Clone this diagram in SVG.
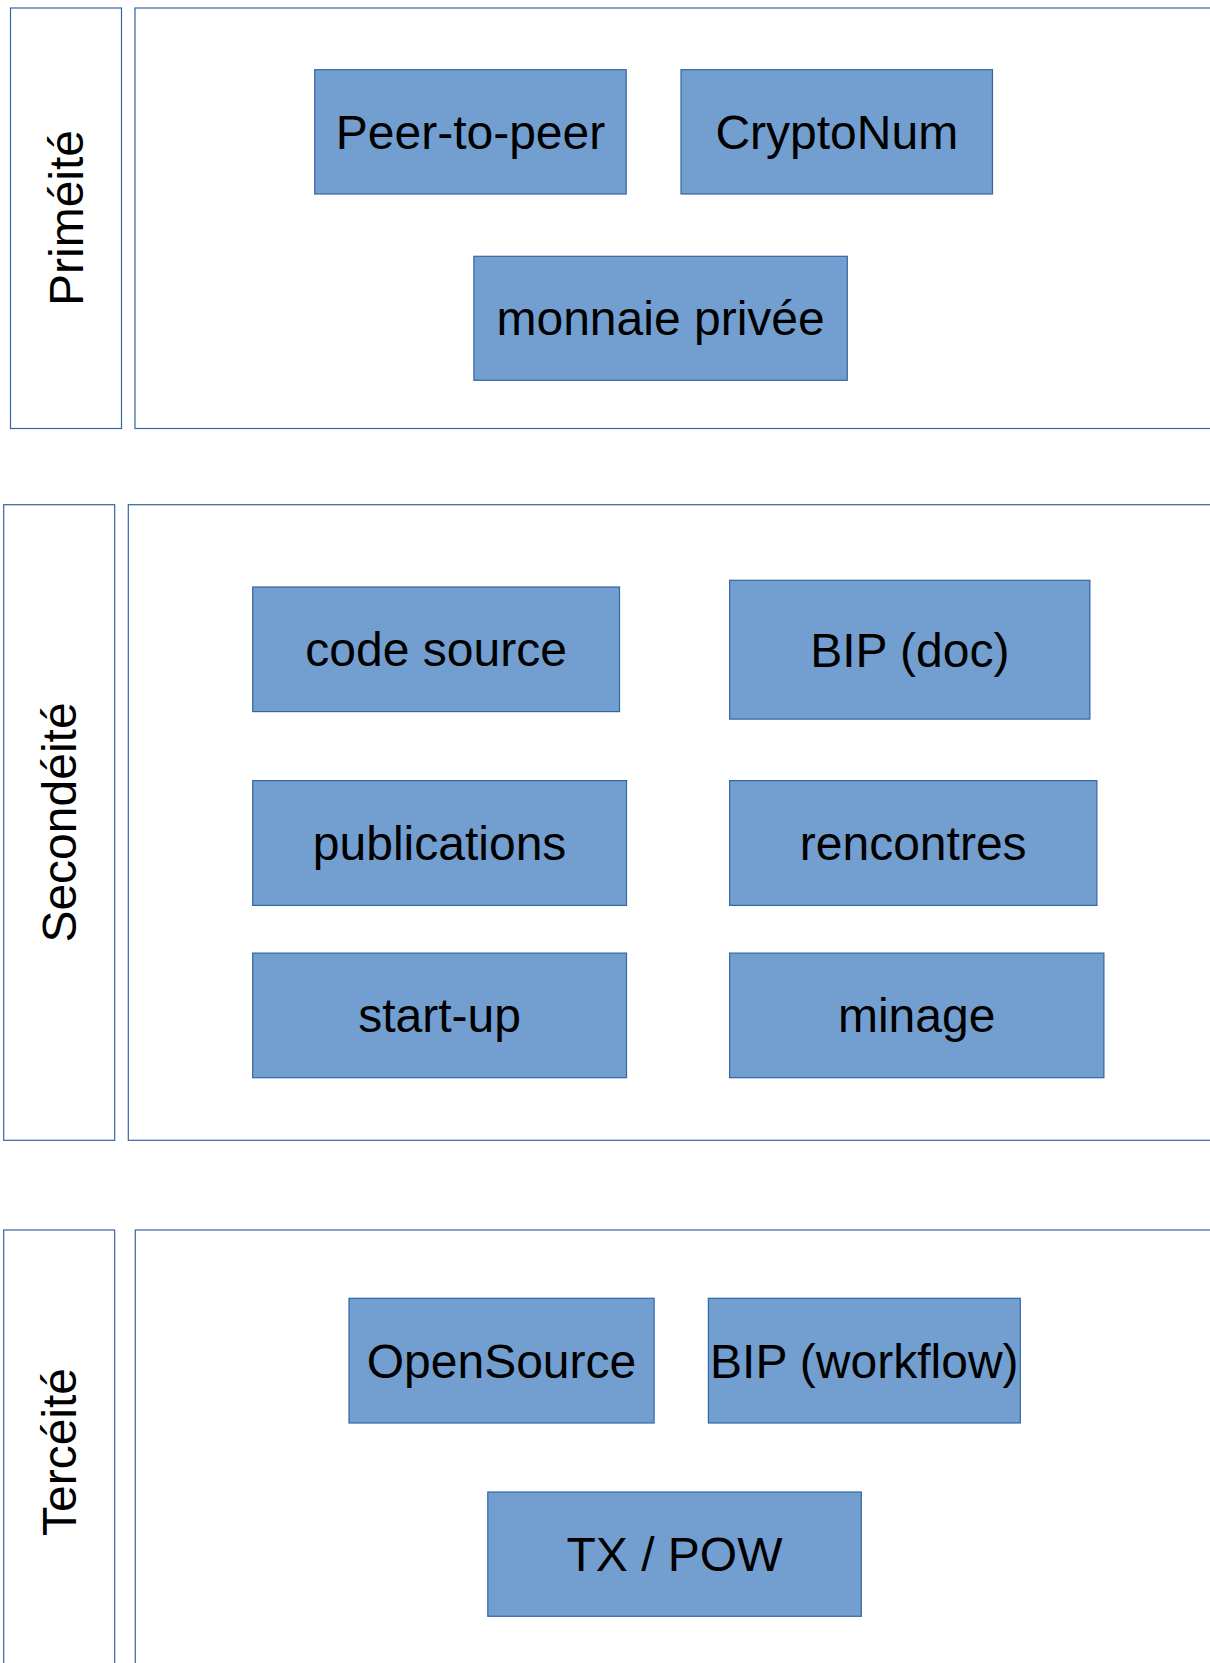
<svg xmlns="http://www.w3.org/2000/svg" width="1210" height="1663" viewBox="0 0 1210 1663">
<style>
.frame{fill:#ffffff;stroke:#3465a4;stroke-width:1.2}
.node{fill:#729fcf;stroke:#3465a4;stroke-width:1.2}
.t{font-family:"Liberation Sans",Arial,sans-serif;font-size:48px;fill:#000000;text-anchor:middle}
</style>
<rect width="1210" height="1663" fill="#ffffff"/>
<g id="lane-primeite">
<rect class="frame" x="10.5" y="8" width="111" height="420.5"/>
<text class="t" transform="translate(66,218) rotate(-90)" y="17">Priméité</text>
</g>
<g id="area-primeite"><rect class="frame" x="135" y="8" width="1090" height="420.5"/></g>
<g id="lane-secondeite">
<rect class="frame" x="3.7" y="504.7" width="111" height="635.6"/>
<text class="t" transform="translate(59,822.5) rotate(-90)" y="17">Secondéité</text>
</g>
<g id="area-secondeite"><rect class="frame" x="128.3" y="504.7" width="1095" height="635.6"/></g>
<g id="lane-terceite">
<rect class="frame" x="3.7" y="1230" width="111" height="450"/>
<text class="t" transform="translate(59,1452) rotate(-90)" y="17">Tercéité</text>
</g>
<g id="area-terceite"><rect class="frame" x="135.3" y="1230" width="1090" height="450"/></g>

<g id="n-p2p"><rect class="node" x="314.7" y="69.7" width="311.5" height="124.3"/><text class="t" x="470.5" y="149">Peer-to-peer</text></g>
<g id="n-cryptonum"><rect class="node" x="681" y="69.7" width="311.5" height="124.3"/><text class="t" x="836.8" y="149">CryptoNum</text></g>
<g id="n-monnaie"><rect class="node" x="473.9" y="256.3" width="373.4" height="124"/><text class="t" x="660.6" y="335.3">monnaie privée</text></g>

<g id="n-code"><rect class="node" x="252.7" y="587" width="366.8" height="124.6"/><text class="t" x="436.1" y="666.3">code source</text></g>
<g id="n-bipdoc"><rect class="node" x="729.6" y="580.3" width="360.3" height="138.8"/><text class="t" x="909.8" y="666.7">BIP (doc)</text></g>
<g id="n-publications"><rect class="node" x="252.7" y="780.6" width="373.8" height="124.8"/><text class="t" x="439.6" y="860">publications</text></g>
<g id="n-rencontres"><rect class="node" x="729.6" y="780.6" width="367.3" height="124.8"/><text class="t" x="913.2" y="860">rencontres</text></g>
<g id="n-startup"><rect class="node" x="252.7" y="953.1" width="373.8" height="124.6"/><text class="t" x="439.6" y="1032.4">start-up</text></g>
<g id="n-minage"><rect class="node" x="729.6" y="953.1" width="374.3" height="124.6"/><text class="t" x="916.7" y="1032.4">minage</text></g>

<g id="n-opensource"><rect class="node" x="349" y="1298.3" width="305.1" height="124.7"/><text class="t" x="501.5" y="1377.6">OpenSource</text></g>
<g id="n-bipworkflow"><rect class="node" x="708.4" y="1298.3" width="311.9" height="124.7"/><text class="t" x="864.3" y="1377.6">BIP (workflow)</text></g>
<g id="n-txpow"><rect class="node" x="487.8" y="1492" width="373.5" height="124.3"/><text class="t" x="674.5" y="1571.2">TX / POW</text></g>

<g id="connectors"></g>
</svg>
